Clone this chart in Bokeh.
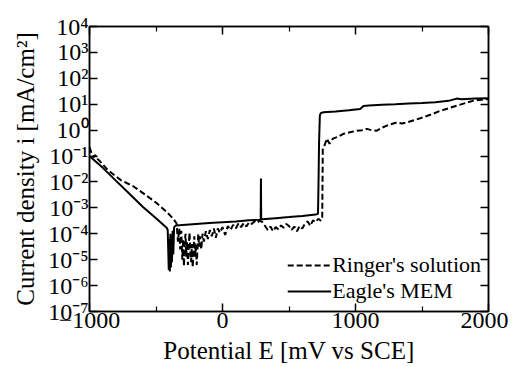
from bokeh.plotting import figure
from bokeh.models import (LogAxis, LinearAxis, FixedTicker, CustomJSTickFormatter,
                          Legend, LegendItem)
from bokeh.embed import file_html
from bokeh.resources import INLINE

# ---- data ----
# Eagle's MEM (solid): potential [mV vs SCE], current density [mA/cm^2]
E_eagle = [-1000, -900, -800, -700, -600, -500, -420, -412, -408, -404, -400, -396,
           -392, -388, -384, -380, -375, -370, -364, -355, -346, -300, -200, -100,
           0, 100, 200, 280, 287, 289, 291, 300, 400, 500, 600, 700, 718, 722, 726,
           732, 740, 760, 850, 950, 1000, 1035, 1060, 1100, 1200, 1300, 1400, 1500,
           1600, 1700, 1760, 1800, 1900, 2000]
i_eagle = [1.0e-1, 3.5e-2, 1.1e-2, 3.5e-3, 1.1e-3, 4.0e-4, 1.7e-4, 1.4e-4, 2.5e-5, 4.0e-6,
           6.3e-5, 3.5e-6, 1.0e-4, 5.0e-6, 8.0e-5, 8.0e-6, 1.3e-4, 1.6e-5, 1.8e-4,
           2.0e-4, 2.1e-4, 2.2e-4, 2.4e-4, 2.6e-4, 2.8e-4, 3.0e-4, 3.3e-4, 3.5e-4,
           3.5e-4, 1.35e-2, 3.6e-4, 3.6e-4, 4.0e-4, 4.4e-4, 4.9e-4, 5.5e-4, 5.9e-4,
           1.0e-2, 3.2e-1, 3.7e0, 4.6e0, 4.9e0, 5.2e0, 5.8e0, 6.3e0, 6.6e0, 8.5e0,
           8.9e0, 9.5e0, 1.0e1, 1.07e1, 1.12e1, 1.2e1, 1.35e1, 1.65e1, 1.55e1,
           1.65e1, 1.7e1]

# Ringer's solution (dashed)
E_ringer = [-1000, -985, -968, -955, -945, -930, -860, -762, -674, -600, -500, -420,
            -370, -345, -335, -325, -318, -310, -302, -296, -290, -284, -278, -272,
            -266, -260, -254, -248, -242, -236, -230, -224, -218, -212, -206, -200,
            -194, -188, -182, -176, -170, -160, -150, -140, -125, -110, -95, -80,
            -65, -50, -35, -20, 0, 20, 40, 60, 80, 100, 120, 140, 160, 180, 200,
            220, 240, 260, 280, 300, 320, 340, 360, 380, 400, 420, 440, 460, 480,
            500, 520, 540, 560, 580, 600, 620, 640, 660, 680, 700, 720, 740, 750,
            752, 754, 770, 784, 805, 830, 870, 909, 960, 1010, 1050, 1085, 1120,
            1161, 1200, 1236, 1312, 1350, 1387, 1450, 1513, 1580, 1638, 1700, 1764,
            1830, 1889, 1950, 2000]
i_ringer = [2.2e-1, 1.3e-1, 9.0e-2, 1.1e-1, 8.0e-2, 7.0e-2, 2.8e-2, 1.15e-2, 7.0e-3,
            3.8e-3, 1.6e-3, 7.0e-4, 3.8e-4, 2.5e-4, 5.0e-5, 1.6e-4, 2.5e-5, 1.3e-4,
            1.0e-5, 6.3e-5, 5.6e-6, 4.0e-5, 1.0e-4, 1.3e-5, 5.0e-5, 6.3e-6, 3.2e-5,
            1.1e-4, 2.0e-5, 8.0e-6, 4.0e-5, 5.0e-6, 2.5e-5, 8.0e-5, 1.3e-5, 4.0e-5,
            6.3e-6, 2.5e-5, 1.0e-4, 3.2e-5, 8.0e-5, 2.5e-5, 1.0e-4, 5.0e-5, 1.25e-4,
            6.3e-5, 1.4e-4, 8.0e-5, 1.6e-4, 7.0e-5, 1.6e-4, 1.1e-4, 1.8e-4, 9.0e-5,
            2.0e-4, 1.4e-4, 2.2e-4, 1.6e-4, 2.5e-4, 1.8e-4, 2.6e-4, 1.9e-4, 2.8e-4,
            2.4e-4, 3.0e-4, 2.6e-4, 3.2e-4, 2.8e-4, 2.0e-4, 1.4e-4, 1.9e-4, 1.25e-4,
            1.8e-4, 1.5e-4, 2.1e-4, 1.7e-4, 2.4e-4, 2.0e-4, 1.4e-4, 1.9e-4, 1.25e-4,
            2.0e-4, 1.6e-4, 2.5e-4, 3.0e-4, 2.0e-4, 3.3e-4, 2.8e-4, 3.8e-4, 3.2e-4,
            4.5e-4, 1.0e-2, 1.9e-1, 2.8e-1, 4.7e-1, 3.0e-1, 4.7e-1, 5.6e-1, 7.2e-1,
            8.3e-1, 9.5e-1, 1.0e0, 1.12e0, 1.0e0, 9.5e-1, 1.25e0, 1.5e0, 2.0e0, 1.8e0,
            2.0e0, 2.5e0, 3.2e0, 4.2e0, 5.6e0, 7.0e0, 8.9e0, 1.12e1, 1.38e1, 1.48e1,
            1.6e1]

x_major = [-1000, 0, 1000, 2000]
x_minor = [-500, 500, 1500]
y_major = [1e-7, 1e-6, 1e-5, 1e-4, 1e-3, 1e-2, 1e-1, 1e0, 1e1, 1e2, 1e3, 1e4]

FONT = "Liberation Serif"

p = figure(width=508, height=366, x_range=(-1000, 2000), y_range=(1e-7, 1e4),
           y_axis_type="log", output_backend="svg", toolbar_location=None,
           min_border_left=89, min_border_right=20, min_border_top=26,
           min_border_bottom=54)
p.grid.visible = False
p.outline_line_color = "black"
p.outline_line_width = 1.5
p.background_fill_color = "white"
p.border_fill_color = "white"

sup_js = """
const m = {'-':'\u207b','0':'\u2070','1':'\u00b9','2':'\u00b2','3':'\u00b3','4':'\u2074',
           '5':'\u2075','6':'\u2076','7':'\u2077','8':'\u2078','9':'\u2079'};
const e = Math.round(Math.log10(tick));
return '10' + String(e).split('').map(c => m[c]).join('');
"""
blank_js = "return '';"

def style_axis(ax):
    ax.axis_line_color = "black"
    ax.axis_line_width = 1.5
    ax.major_tick_in = 8
    ax.major_tick_out = 0
    ax.minor_tick_in = 5
    ax.minor_tick_out = 0
    ax.major_tick_line_color = "black"
    ax.major_tick_line_width = 1.5
    ax.minor_tick_line_color = "black"
    ax.minor_tick_line_width = 1.2
    ax.major_label_text_font = FONT
    ax.major_label_text_font_size = "24px"
    ax.major_label_text_color = "black"
    ax.axis_label_text_font = FONT
    ax.axis_label_text_font_size = "25px"
    ax.axis_label_text_font_style = "normal"
    ax.axis_label_text_color = "black"

# bottom axis
xa = p.xaxis[0]
xa.ticker = FixedTicker(ticks=x_major, minor_ticks=x_minor)
style_axis(xa)
xa.axis_label = "Potential E [mV vs SCE]"
xa.major_label_standoff = 1
xa.axis_label_standoff = 6

# left axis
ya = p.yaxis[0]
ya.ticker = FixedTicker(ticks=y_major, minor_ticks=[])
ya.formatter = CustomJSTickFormatter(code=sup_js)
style_axis(ya)
ya.axis_label = "Current density i [mA/cm\u00b2]"
ya.major_label_standoff = 1
ya.axis_label_standoff = 6

# mirrored axes (no labels)
xt = LinearAxis(ticker=FixedTicker(ticks=x_major, minor_ticks=x_minor),
                formatter=CustomJSTickFormatter(code=blank_js))
style_axis(xt)
xt.major_label_standoff = 0
p.add_layout(xt, "above")
yr = LogAxis(ticker=FixedTicker(ticks=y_major, minor_ticks=[]),
             formatter=CustomJSTickFormatter(code=blank_js))
style_axis(yr)
yr.major_label_standoff = 0
p.add_layout(yr, "right")

r1 = p.line(E_ringer, i_ringer, line_color="black", line_width=2, line_dash="6 3")
r2 = p.line(E_eagle, i_eagle, line_color="black", line_width=2)

legend = Legend(items=[LegendItem(label="Ringer's solution", renderers=[r1]),
                       LegendItem(label="Eagle's MEM", renderers=[r2])],
                location="bottom_right", background_fill_alpha=0,
                border_line_color=None,
                label_text_font=FONT, label_text_font_size="22px",
                label_text_color="black", glyph_width=44, label_standoff=1,
                padding=0, spacing=-3, margin=7)
p.add_layout(legend)

open("out.html", "w").write(file_html(p, INLINE))
